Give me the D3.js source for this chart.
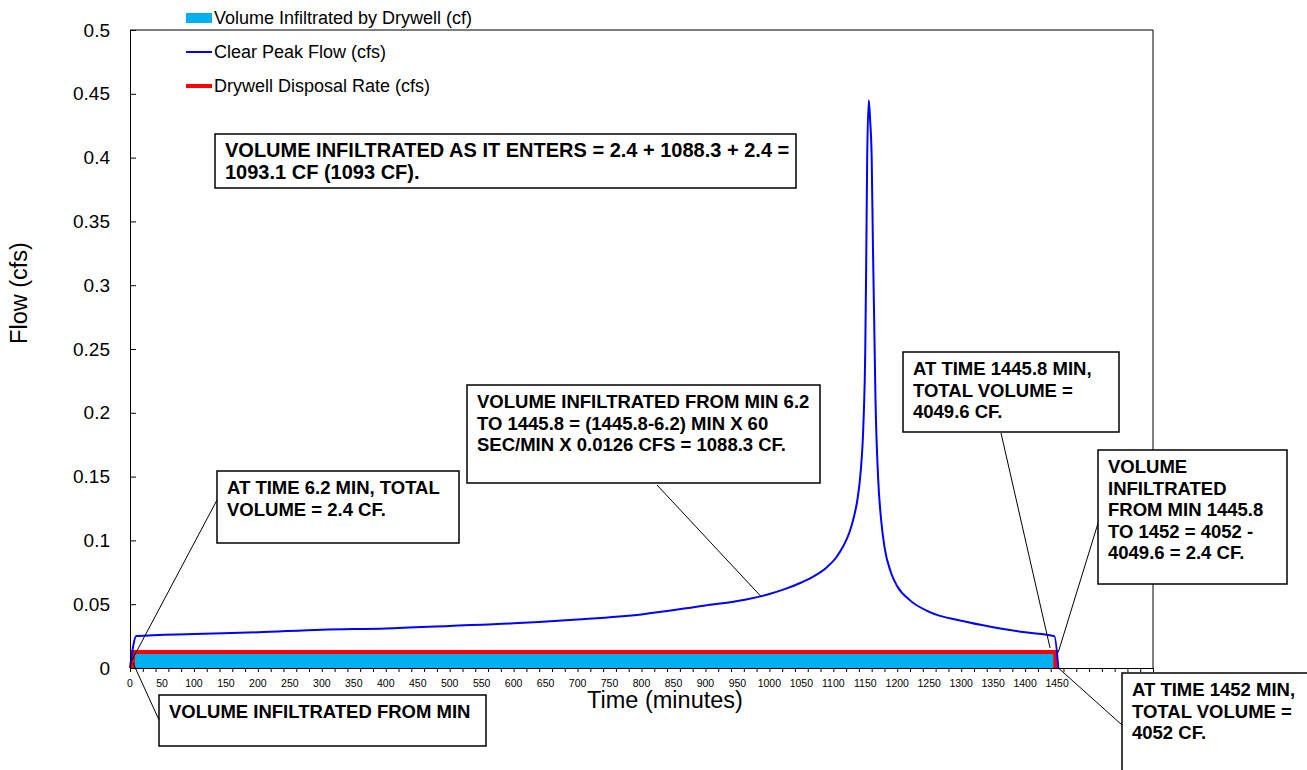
<!DOCTYPE html>
<html>
<head>
<meta charset="utf-8">
<script src="https://cdn.jsdelivr.net/npm/d3@7/dist/d3.min.js"></script>
<style>
  html, body { margin: 0; padding: 0; background: #ffffff; }
  svg { display: block; font-family: "Liberation Sans", Arial, sans-serif; }
</style>
</head>
<body>
<svg id="chart" width="1307" height="770"></svg>
<script>
// ---------------- DATA ----------------
// Clear Peak Flow hydrograph (time in minutes, flow in cfs)
const timeMin = [0, 10, 100, 200, 300, 400, 500, 600, 700, 800, 900, 950, 1000, 1025, 1050, 1070, 1090, 1105, 1115, 1125, 1132, 1138, 1143, 1147, 1150, 1151.5, 1153, 1155.5, 1157.5, 1160, 1162, 1164, 1166, 1170, 1175, 1180, 1190, 1200, 1220, 1250, 1300, 1350, 1400, 1445.8, 1452];
const peakFlow = [0, 0.025, 0.0266, 0.028, 0.030, 0.031, 0.033, 0.035, 0.038, 0.042, 0.049, 0.0525, 0.058, 0.062, 0.067, 0.072, 0.079, 0.087, 0.095, 0.106, 0.118, 0.133, 0.155, 0.19, 0.25, 0.32, 0.40, 0.445, 0.43, 0.40, 0.33, 0.27, 0.21, 0.15, 0.115, 0.095, 0.075, 0.064, 0.053, 0.044, 0.037, 0.032, 0.028, 0.025, 0];

// Drywell disposal rate (cfs) and breakpoints (min)
const disposalRate = 0.0126;
const disposalTimes = [0, 6.2, 1445.8, 1452];

// Volume infiltrated (drawn as band between these times at the disposal rate)
const volumeStartMin = 6.2;
const volumeEndMin = 1445.8;

// Axes
const yTickValues = [0, 0.05, 0.1, 0.15, 0.2, 0.25, 0.3, 0.35, 0.4, 0.45, 0.5];
const xMinorTicks = d3.range(0, 1601, 20);
const xTickLabels = d3.range(0, 1451, 50);

// Legend
const legendLabels = ["Volume Infiltrated by Drywell (cf)", "Clear Peak Flow (cfs)", "Drywell Disposal Rate (cfs)"];

// Annotation texts with anchor points (data coords)
const noteTexts = [
  ["VOLUME INFILTRATED AS IT ENTERS = 2.4 + 1088.3 + 2.4 =", "1093.1 CF (1093 CF)."],
  ["VOLUME INFILTRATED FROM MIN 6.2", "TO 1445.8 = (1445.8-6.2) MIN X 60", "SEC/MIN X 0.0126 CFS = 1088.3 CF."],
  ["AT TIME 1445.8 MIN,", "TOTAL VOLUME =", "4049.6 CF."],
  ["VOLUME", "INFILTRATED", "FROM MIN 1445.8", "TO 1452 = 4052 -", "4049.6 = 2.4 CF."],
  ["AT TIME 1452 MIN,", "TOTAL VOLUME =", "4052 CF."],
  ["AT TIME 6.2 MIN, TOTAL", "VOLUME = 2.4 CF."],
  ["VOLUME INFILTRATED FROM MIN"]
];
const noteAnchorT = [null, 987, 1439, 1452, 1452, 3, 4.7];
const noteAnchorQ = [null, 0.056, 0.0157, 0.0126, 0, 0.006, 0.004];

// ---------------- LAYOUT ----------------
const W = 1307, H = 770;
const plot = { left: 130, top: 30, right: 1153, bottom: 668 };
// box layout: [x, y, w, h, leaderStartX, leaderStartY, fontSize]
const noteBoxes = [
  [215, 134, 581, 54, null, null, 20],
  [467, 385, 353, 98, 657, 485, 18.5],
  [903, 352, 216, 80, 1001, 433, 18.5],
  [1098, 450, 189, 134, 1099, 520, 18.5],
  [1122, 673, 200, 120, 1122, 725, 18.5],
  [217, 471, 242, 72, 217, 500, 18.5],
  [159, 695, 327, 51, 159, 720, 18.5]
];

const svg = d3.select("#chart");
svg.append("rect").attr("width", W).attr("height", H).attr("fill", "#fff");

const x = d3.scaleLinear().domain([0, 1600]).range([plot.left, plot.right]);
const y = d3.scaleLinear().domain([0, 0.5]).range([plot.bottom, plot.top]);

// plot frame (top and right)
svg.append("path")
  .attr("d", `M${plot.left},${plot.top}H${plot.right}V${plot.bottom}`)
  .attr("fill", "none").attr("stroke", "#000").attr("stroke-width", 1);

// volume band
svg.append("rect")
  .attr("x", x(volumeStartMin)).attr("y", y(disposalRate))
  .attr("width", x(volumeEndMin) - x(volumeStartMin))
  .attr("height", y(0) - y(disposalRate))
  .attr("fill", "#00B0F0");

// disposal rate (red)
const red = svg.append("g").attr("stroke", "#FF0000").attr("stroke-width", 4).attr("fill", "none");
red.append("line")
  .attr("x1", x(disposalTimes[0])).attr("x2", x(disposalTimes[3]))
  .attr("y1", y(disposalRate)).attr("y2", y(disposalRate));
[disposalTimes[1] - 1.5, disposalTimes[2] + 1.5].forEach(t => {
  red.append("line").attr("x1", x(t)).attr("x2", x(t))
    .attr("y1", y(disposalRate)).attr("y2", y(0));
});

// peak flow line (blue)
const pts = timeMin.map((t, i) => [t, peakFlow[i]]);
svg.append("path")
  .datum(pts)
  .attr("d", d3.line().x(d => x(d[0])).y(d => y(d[1])).curve(d3.curveMonotoneX))
  .attr("fill", "none").attr("stroke", "#0000FF").attr("stroke-width", 2);

// y axis
const yAxis = d3.axisLeft(y).tickValues(yTickValues).tickSize(-6).tickPadding(20)
  .tickFormat(d => d3.format("")(+d.toFixed(2)));
const gy = svg.append("g").attr("transform", `translate(${plot.left},0)`).call(yAxis);
gy.select(".domain").attr("stroke", "#000");
gy.selectAll("text").attr("font-size", 19).attr("fill", "#000")
  .attr("font-family", "Liberation Sans, Arial, sans-serif");

// x axis
const xAxis = d3.axisBottom(x).tickValues(xMinorTicks).tickSize(4).tickFormat("");
const gx = svg.append("g").attr("transform", `translate(0,${plot.bottom})`).call(xAxis);
gx.select(".domain").attr("stroke", "#000");
svg.append("g").selectAll("text").data(xTickLabels).join("text")
  .attr("x", d => x(d)).attr("y", plot.bottom + 19)
  .attr("text-anchor", "middle").attr("font-size", 10.5).attr("fill", "#000")
  .text(d => d);

// axis titles
svg.append("text").attr("x", 665).attr("y", 708).attr("text-anchor", "middle")
  .attr("font-size", 23.5).text("Time (minutes)");
svg.append("text").attr("transform", "translate(27,293) rotate(-90)")
  .attr("text-anchor", "middle").attr("font-size", 23.5).text("Flow (cfs)");

// legend
const lg = svg.append("g");
lg.append("rect").attr("x", 186).attr("y", 13).attr("width", 26).attr("height", 10).attr("fill", "#00B0F0");
lg.append("line").attr("x1", 186).attr("x2", 212).attr("y1", 52).attr("y2", 52).attr("stroke", "#0000FF").attr("stroke-width", 2);
lg.append("line").attr("x1", 186).attr("x2", 212).attr("y1", 86).attr("y2", 86).attr("stroke", "#FF0000").attr("stroke-width", 4);
[18, 52, 86].forEach((yy, i) => {
  lg.append("text").attr("x", 214).attr("y", yy).attr("dy", "0.35em")
    .attr("font-size", 18).attr("fill", "#000").text(legendLabels[i]);
});

// annotations
noteTexts.forEach((lines, i) => {
  const [bx, by, bw, bh, lx, ly, fs] = noteBoxes[i];
  if (lx !== null) {
    svg.append("line").attr("x1", lx).attr("y1", ly)
      .attr("x2", x(noteAnchorT[i])).attr("y2", y(noteAnchorQ[i]))
      .attr("stroke", "#000").attr("stroke-width", 1);
  }
  svg.append("rect").attr("x", bx).attr("y", by).attr("width", bw).attr("height", bh)
    .attr("fill", "#fff").attr("stroke", "#000").attr("stroke-width", 1.5);
  const t = svg.append("text").attr("font-size", fs).attr("font-weight", "bold").attr("fill", "#000");
  lines.forEach((ln, j) => {
    t.append("tspan").attr("x", bx + 10).attr("y", by + 23 + j * 21.5).text(ln);
  });
});
</script>
</body>
</html>
